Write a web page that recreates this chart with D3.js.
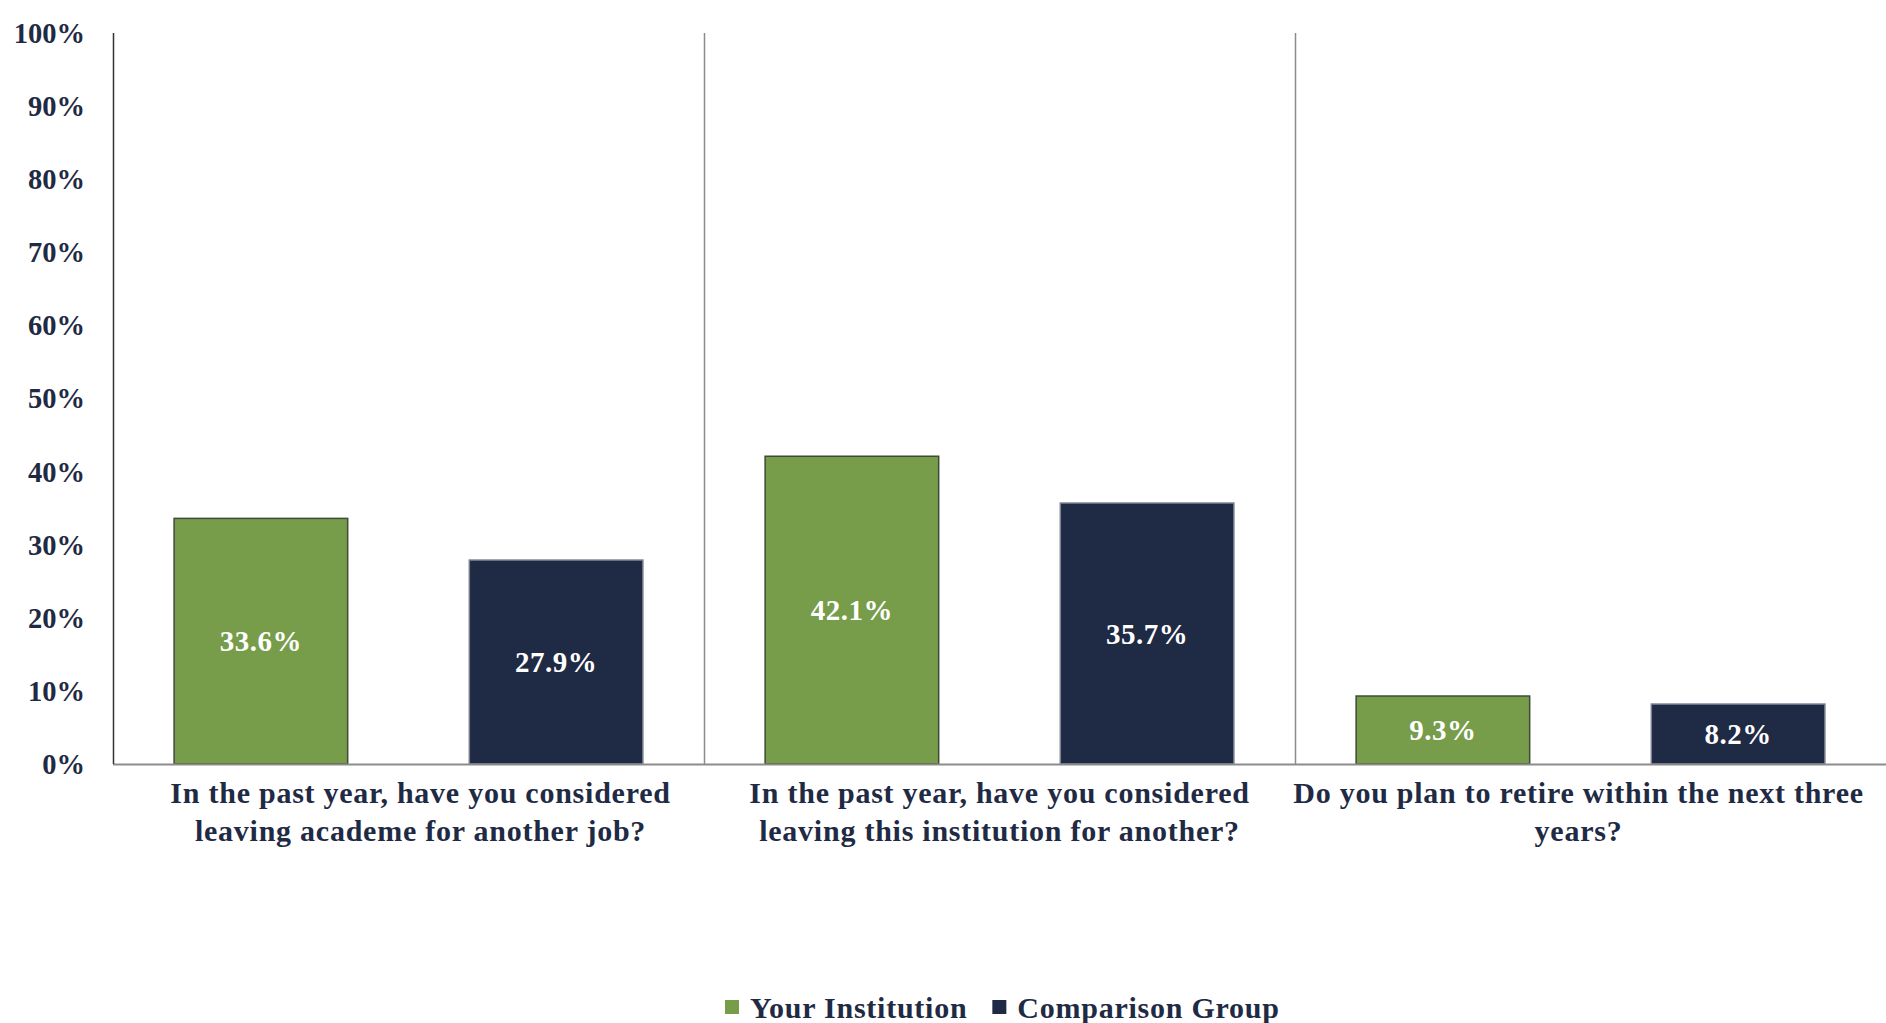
<!DOCTYPE html>
<html>
<head>
<meta charset="utf-8">
<script src="https://cdn.jsdelivr.net/npm/d3@7"></script>
<style>
  html, body { margin: 0; padding: 0; background: #fff; }
  svg { display: block; }
  text { font-family: "Liberation Serif", "DejaVu Serif", serif; font-weight: bold; }
</style>
</head>
<body>
<svg id="chart" width="1886" height="1023"></svg>
<script>
// Survey questions (line breaks mark where each label wraps)
const categories = [
  "In the past year, have you considered\nleaving academe for another job?",
  "In the past year, have you considered\nleaving this institution for another?",
  "Do you plan to retire within the next three\nyears?"
];
const seriesNames = ["Your Institution", "Comparison Group"];
const yourInstitution = [33.6, 42.1, 9.3];
const comparisonGroup = [27.9, 35.7, 8.2];
const yTicks = [0, 10, 20, 30, 40, 50, 60, 70, 80, 90, 100];

const colors = { "Your Institution": "#779C4A", "Comparison Group": "#1F2A44" };
const strokes = { "Your Institution": "#3f4a3a", "Comparison Group": "#7a8090" };
const textColor = "#1F2A44";

const svg = d3.select("#chart");
const margin = { left: 113, right: 0, top: 33, bottom: 259 };
const W = 1886, H = 1023;
const plotW = W - margin.left - margin.right;
const plotH = H - margin.top - margin.bottom;

const g = svg.append("g").attr("transform", `translate(${margin.left},${margin.top})`);

const x0 = d3.scaleBand().domain(categories).range([0, plotW]).padding(0);
const x1 = d3.scaleBand().domain(seriesNames).range([0, x0.bandwidth()])
  .paddingInner(0.412).paddingOuter(0.207);
const y = d3.scaleLinear().domain([0, 100]).range([plotH, 0]);

// Y axis labels
g.selectAll(".ytick").data(yTicks).join("text")
  .attr("class", "ytick")
  .attr("x", -28)
  .attr("y", d => y(d))
  .attr("dy", "0.35em")
  .attr("text-anchor", "end")
  .attr("font-size", 28.5)
  .attr("fill", textColor)
  .text(d => d + "%");

// Vertical separators between question groups
g.selectAll(".sep").data(categories.slice(1)).join("line")
  .attr("class", "sep")
  .attr("x1", d => Math.round(x0(d)) + 0.5).attr("x2", d => Math.round(x0(d)) + 0.5)
  .attr("y1", 0).attr("y2", plotH)
  .attr("stroke", "#8c8c8c").attr("stroke-width", 1.5);

// Bars
const rows = categories.map((c, i) => ({
  cat: c,
  vals: [
    { name: seriesNames[0], v: yourInstitution[i] },
    { name: seriesNames[1], v: comparisonGroup[i] }
  ]
}));

const groups = g.selectAll(".grp").data(rows).join("g")
  .attr("class", "grp")
  .attr("transform", d => `translate(${x0(d.cat)},0)`);

groups.selectAll("rect").data(d => d.vals).join("rect")
  .attr("x", d => x1(d.name))
  .attr("y", d => y(d.v))
  .attr("width", x1.bandwidth())
  .attr("height", d => plotH - y(d.v))
  .attr("fill", d => colors[d.name])
  .attr("stroke", d => strokes[d.name])
  .attr("stroke-width", 1.5);

groups.selectAll(".val").data(d => d.vals).join("text")
  .attr("class", "val")
  .attr("x", d => x1(d.name) + x1.bandwidth() / 2)
  .attr("y", d => (y(d.v) + plotH) / 2)
  .attr("dy", "0.35em")
  .attr("text-anchor", "middle")
  .attr("font-size", 29)
  .attr("letter-spacing", 0.5)
  .attr("fill", "#ffffff")
  .text(d => d.v.toFixed(1) + "%");

// Axis lines
g.append("line")
  .attr("x1", 0).attr("x2", plotW)
  .attr("y1", plotH + 0.5).attr("y2", plotH + 0.5)
  .attr("stroke", "#8c8c8c").attr("stroke-width", 2);
g.append("line")
  .attr("x1", 0.5).attr("x2", 0.5)
  .attr("y1", 0).attr("y2", plotH)
  .attr("stroke", "#333333").attr("stroke-width", 1.5);

// Category labels; the outer labels sit slightly inward of their band centres
const labelShift = [12, 0, -12];
const catLabels = g.selectAll(".cat").data(categories).join("text")
  .attr("class", "cat")
  .attr("text-anchor", "middle")
  .attr("font-size", 30)
  .attr("letter-spacing", 0.75)
  .attr("fill", textColor)
  .attr("transform", (d, i) => `translate(${x0(d) + x0.bandwidth() / 2 + labelShift[i]},${plotH + 39})`);
catLabels.selectAll("tspan").data(d => d.split("\n")).join("tspan")
  .attr("x", 0)
  .attr("y", (d, i) => i * 38)
  .text(d => d);

// Legend
const legend = svg.append("g").attr("transform", "translate(725,1007)");
let lx = 0;
seriesNames.forEach(name => {
  const item = legend.append("g").attr("transform", `translate(${lx},0)`);
  item.append("rect").attr("x", 0).attr("y", -7).attr("width", 14).attr("height", 14)
    .attr("fill", colors[name]);
  const t = item.append("text").attr("x", 25).attr("y", 0).attr("dy", "0.35em")
    .attr("font-size", 30).attr("letter-spacing", 0.75)
    .attr("fill", textColor).text(name);
  lx += 25 + t.node().getComputedTextLength() + 25;
});
</script>
</body>
</html>
